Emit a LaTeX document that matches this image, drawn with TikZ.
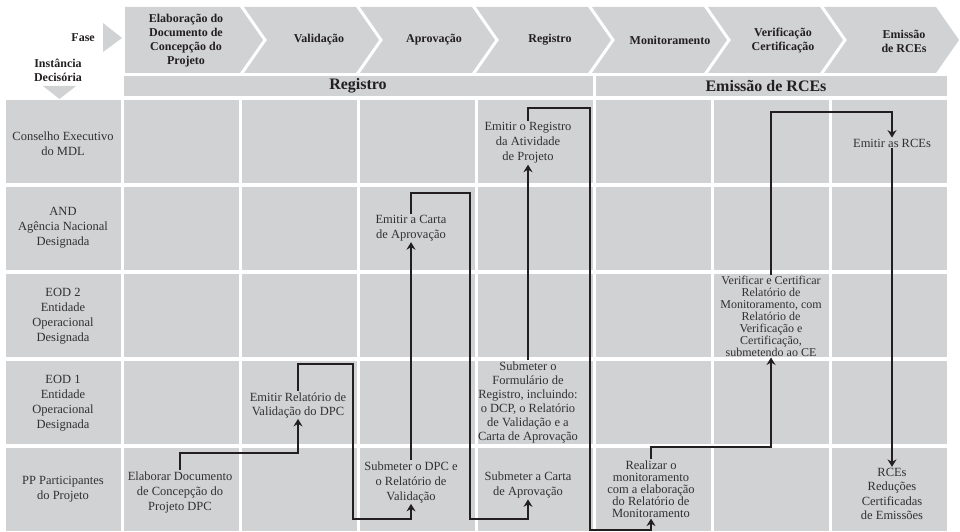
\documentclass[tikz,border=0pt]{standalone}
\usepackage{fontspec}
\setmainfont{Liberation Serif}
\usetikzlibrary{arrows.meta}
\definecolor{cellgray}{RGB}{209,210,212}
\definecolor{ink}{RGB}{50,48,49}
\definecolor{wire}{RGB}{35,31,32}

\tikzset{
  txt/.style={align=center, inner sep=1pt, text=ink, font=\fontsize{12.5}{15}\selectfont},
  hdr/.style={align=center, inner sep=1pt, text=wire, font=\fontsize{12}{14}\selectfont\bfseries},
  band/.style={inner sep=1pt, text=wire, font=\fontsize{16}{18}\selectfont\bfseries},
  flow/.style={line width=2.4pt, draw=wire, -{Stealth[length=7.5pt,width=9pt,inset=2.5pt]}}
}

\begin{document}
\begin{tikzpicture}[x=1pt, y=-1pt]
  \useasboundingbox (0,0) rectangle (960,532);
  % grid of cells
  \foreach \r in {0,...,4}{
    \fill[cellgray] (6,100+87*\r) rectangle ++(115,83);
    \foreach \c in {0,...,6}
      \fill[cellgray] (124+118*\c,100+87*\r) rectangle ++(115,83);
  }
  % phase chevrons
  \fill[cellgray] (125,7) -- (240,7) -- (263,40) -- (240,73) -- (125,73) -- cycle;
  \foreach \k in {2,...,7}{
    \pgfmathsetmacro\b{128+116*(\k-1)}
    \fill[cellgray] (\b,7) -- (\b+112,7) -- (\b+135,40) -- (\b+112,73)
      -- (\b,73) -- (\b+23,40) -- cycle;
  }
  % bands
  \fill[cellgray] (124,76) rectangle (593,96);
  \fill[cellgray] (596,76) rectangle (947,96);
  % markers
  \fill[cellgray] (103,23) -- (122,38) -- (103,52) -- cycle;
  \fill[cellgray] (43,86) -- (76,86) -- (59.5,99) -- cycle;

  \node[hdr, anchor=east] (fase) at (96,38) {Fase};
  \node[hdr] (inst) at (58,70) {Instância\\Decisória};

  \node[hdr] (ph1) at (186,41) {Elaboração do\\Documento de\\Concepção do\\Projeto};
  \node[hdr] (ph2) at (319,40) {Validação};
  \node[hdr] (ph3) at (434,40) {Aprovação};
  \node[hdr] (ph4) at (550,40) {Registro};
  \node[hdr] (ph5) at (670,40) {Monitoramento};
  \node[hdr] (ph6) at (783,41) {Verificação\\Certificação};
  \node[hdr] (ph7) at (904,41) {Emissão\\de RCEs};

  \node[band] (bandreg) at (358,86) {Registro};
  \node[band] (bandemi) at (766,86) {Emissão de RCEs};

  % row labels
  \node[txt] (conselho) at (63,144) {Conselho Executivo\\do MDL};
  \node[txt] (agencia) at (63,228) {AND\\Agência Nacional\\Designada};
  \node[txt] (eod2) at (63,316) {EOD 2\\Entidade\\Operacional\\Designada};
  \node[txt] (eod1) at (63,403) {EOD 1\\Entidade\\Operacional\\Designada};
  \node[txt] (pp) at (63,489) {PP Participantes\\do Projeto};

  % steps
  \node[txt] (elab) at (180,492) {Elaborar Documento\\de Concepção do\\Projeto DPC};
  \node[txt, font=\fontsize{12.5}{14}\selectfont] (emrel) at (298,405) {Emitir Relatório de\\Validação do DPC};
  \node[txt] (subdpc) at (411,482) {Submeter o DPC e\\o Relatório de\\Validação};
  \node[txt] (carta) at (411,228) {Emitir a Carta\\de Aprovação};
  \node[txt] (subcarta) at (528,485) {Submeter a Carta\\de Aprovação};
  \node[txt, font=\fontsize{12.5}{14}\selectfont] (form) at (528,402) {Submeter o\\Formulário de\\Registro, incluindo:\\o DCP, o Relatório\\de Validação e a\\Carta de Aprovação};
  \node[txt] (regist) at (528,143) {Emitir o Registro\\da Atividade\\de Projeto};
  \node[txt, font=\fontsize{12.5}{12}\selectfont] (realiz) at (651,489) {Realizar o\\monitoramento\\com a elaboração\\do Relatório de\\Monitoramento};
  \node[txt, font=\fontsize{12}{12}\selectfont] (verif) at (771,316) {Verificar e Certificar\\Relatório de\\Monitoramento, com\\Relatório de\\Verificação e\\Certificação,\\submetendo ao CE};
  \node[txt] (rces) at (892,143) {Emitir as RCEs};
  \node[txt, font=\fontsize{12.5}{14.5}\selectfont] (reduc) at (892,494) {RCEs\\Reduções\\Certificadas\\de Emissões};

  % connectors
  \draw[flow] (elab.north) |- (298,453) -- (emrel.south);
  \draw[flow] (emrel.north) |- (353,364) |- (411,519) -- (subdpc.south);
  \draw[flow] (subdpc.north) -- (carta.south);
  \draw[flow] (carta.north) |- (470,193) |- (528,519) -- (subcarta.south);
  \draw[flow] (form.north) -- (regist.south);
  \draw[flow] (regist.north) |- (590,108) |- (651,530) -- (realiz.south);
  \draw[flow] (realiz.north) |- (771,447) -- (verif.south);
  \draw[flow] (verif.north) |- (892,112) -- (rces.north);
  \draw[flow] (rces.south) -- (reduc.north);
\end{tikzpicture}
\end{document}
